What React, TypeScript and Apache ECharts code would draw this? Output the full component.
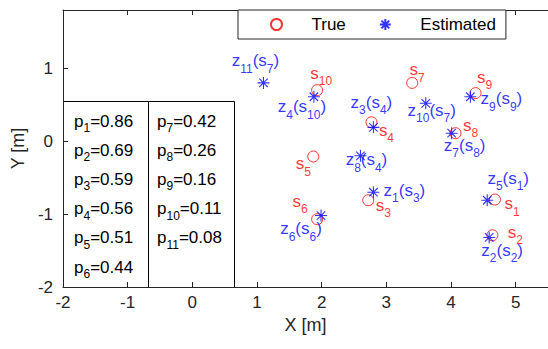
import React, { useEffect, useRef } from "react";
import * as echarts from "echarts";

// ---- data ----
const trueNames = ["1", "2", "3", "4", "5", "6", "7", "8", "9", "10"];
const trueX = [4.68, 4.64, 2.72, 2.77, 1.87, 1.93, 3.40, 4.07, 4.38, 1.93];
const trueY = [-0.80, -1.29, -0.81, 0.26, -0.21, -1.07, 0.80, 0.11, 0.66, 0.70];

const estNames = ["1", "2", "3", "4", "5", "6", "7", "8", "9", "10", "11"];
const estTarget = ["3", "2", "4", "10", "1", "6", "8", "4", "9", "7", "7"];
const estX = [2.80, 4.59, 2.80, 1.88, 4.56, 1.99, 4.01, 2.60, 4.30, 3.61, 1.10];
const estY = [-0.70, -1.32, 0.19, 0.61, -0.81, -1.02, 0.11, -0.20, 0.61, 0.52, 0.80];

const pNames = ["1", "2", "3", "4", "5", "6", "7", "8", "9", "10", "11"];
const pValues = ["0.86", "0.69", "0.59", "0.56", "0.51", "0.44", "0.42", "0.26", "0.16", "0.11", "0.08"];

const xRange = [-2, 5.5];
const yRange = [-2, 1.8];
const tickStep = 1;

// ---- layout (label offsets in px, relative to the marker) ----
const trueLabelOffsets = [
  [17, 4], [23, -3], [15, 5], [15, 8], [-10, 7], [-17, -18], [5, -13], [15, -8], [9, -16], [4, -17],
];
const estLabelOffsets = [
  [31, -2], [13, 13], [-2, -25], [-12, 10], [21, -22], [-20, 13], [13, 12], [6, 4], [31, 2], [6, 7], [-8, -22],
];

const FONT = "'Liberation Sans', Arial, Helvetica, sans-serif";
const RED = "#ff0000";
const BLUE = "#0000ff";
const AXIS = "#262626";
const ASTERISK =
  "path://M0,-10L0,10M-10,0L10,0M-7.07,-7.07L7.07,7.07M-7.07,7.07L7.07,-7.07";

export default function App() {
  const ref = useRef<HTMLDivElement>(null);

  useEffect(() => {
    if (!ref.current) return;
    const chart = echarts.init(ref.current, null, { renderer: "svg" });

    const trueLabels = trueNames.map((n) => `{n|s}{sub|${n}}`);
    const estLabels = estNames.map(
      (n, i) => `{n|z}{sub|${n}}{n|(s}{sub|${estTarget[i]}}{n|)}`
    );

    const richFor = (color: string) => ({
      n: { fontSize: 17, color, fontFamily: FONT },
      sub: { fontSize: 12, color, fontFamily: FONT, padding: [16, 0, 0, 0] },
    });

    const tableRich = {
      n: { fontSize: 17, color: "#000", fontFamily: FONT },
      sub: { fontSize: 12, color: "#000", fontFamily: FONT, padding: [14, 0, 0, 0] },
    };

    const tableLeft = 63.5;
    const tableTop = 101.5;
    const tableMid = 148.5;
    const tableRight = 234.5;
    const tableBottom = 287.5;
    const rowY0 = 121;
    const rowStep = 29.2;

    const tableTexts: any[] = pNames.map((n, i) => {
      const col = i < 6 ? 0 : 1;
      const row = i < 6 ? i : i - 6;
      return {
        type: "text",
        x: col === 0 ? 74 : 157,
        y: rowY0 + row * rowStep,
        style: {
          text: `{n|p}{sub|${n}}{n|=${pValues[i]}}`,
          rich: tableRich,
          align: "left",
          verticalAlign: "middle",
        },
        silent: true,
      };
    });

    const axisCommon = {
      type: "value" as const,
      splitLine: { show: false },
      axisLine: { show: true, onZero: false, lineStyle: { color: AXIS, width: 1 } },
      axisTick: { show: true, inside: true, length: 5, lineStyle: { color: AXIS } },
    };

    chart.setOption({
      animation: false,
      backgroundColor: "#fff",
      textStyle: { fontFamily: FONT },
      grid: { left: 63, right: -6, top: 10, bottom: 62, containLabel: false },
      legend: {
        left: 238,
        top: 10,
        orient: "horizontal",
        padding: [6, 10, 6, 32],
        itemWidth: 60,
        itemHeight: 11,
        itemGap: 33,
        borderColor: AXIS,
        borderWidth: 1,
        borderRadius: 0,
        backgroundColor: "#fff",
        selectedMode: false,
        textStyle: { fontSize: 17, color: "#000", fontFamily: FONT },
        data: ["True", "Estimated"],
      },
      xAxis: [
        {
          ...axisCommon,
          position: "bottom",
          min: xRange[0],
          max: xRange[1],
          interval: tickStep,
          axisLabel: {
            show: true,
            fontSize: 17,
            color: AXIS,
            fontFamily: FONT,
            margin: 7,
            showMaxLabel: false,
          },
          name: "X [m]",
          nameLocation: "middle",
          nameGap: 23,
          nameTextStyle: { fontSize: 18, color: AXIS, fontFamily: FONT },
        },
        {
          ...axisCommon,
          position: "top",
          min: xRange[0],
          max: xRange[1],
          interval: tickStep,
          axisLabel: { show: false },
        },
      ],
      yAxis: [
        {
          ...axisCommon,
          position: "left",
          min: yRange[0],
          max: yRange[1],
          interval: tickStep,
          axisLabel: {
            show: true,
            fontSize: 17,
            color: AXIS,
            fontFamily: FONT,
            margin: 10,
            showMaxLabel: false,
          },
          name: "Y [m]",
          nameLocation: "middle",
          nameGap: 33,
          nameTextStyle: { fontSize: 18, color: AXIS, fontFamily: FONT },
        },
      ],
      graphic: [
        {
          type: "rect",
          shape: {
            x: tableLeft,
            y: tableTop,
            width: tableRight - tableLeft,
            height: tableBottom - tableTop,
          },
          style: { fill: "none", stroke: "#000", lineWidth: 1 },
          silent: true,
        },
        {
          type: "line",
          shape: { x1: tableMid, y1: tableTop, x2: tableMid, y2: tableBottom },
          style: { stroke: "#000", lineWidth: 1 },
          silent: true,
        },
        ...tableTexts,
      ],
      series: [
        {
          name: "True",
          type: "scatter",
          symbol: "circle",
          symbolSize: 11,
          itemStyle: { color: "rgba(0,0,0,0)", borderColor: RED, borderWidth: 1 },
          emphasis: { disabled: true },
          silent: true,
          z: 2,
          label: {
            show: true,
            position: "inside",
            formatter: (p: any) => trueLabels[p.dataIndex],
            rich: richFor(RED),
          },
          data: trueX.map((x, i) => ({
            value: [x, trueY[i]],
            label: { offset: trueLabelOffsets[i] },
          })),
        },
        {
          name: "Estimated",
          type: "scatter",
          symbol: ASTERISK,
          symbolSize: 12,
          itemStyle: { color: BLUE, borderColor: BLUE, borderWidth: 1.1 },
          emphasis: { disabled: true },
          silent: true,
          z: 3,
          label: {
            show: true,
            position: "inside",
            formatter: (p: any) => estLabels[p.dataIndex],
            rich: richFor(BLUE),
          },
          data: estX.map((x, i) => ({
            value: [x, estY[i]],
            label: { offset: estLabelOffsets[i] },
          })),
        },
      ],
    });

    return () => chart.dispose();
  }, []);

  return (
    <div
      ref={ref}
      style={{ position: "absolute", left: 0, top: 0, width: 548, height: 349 }}
    />
  );
}
